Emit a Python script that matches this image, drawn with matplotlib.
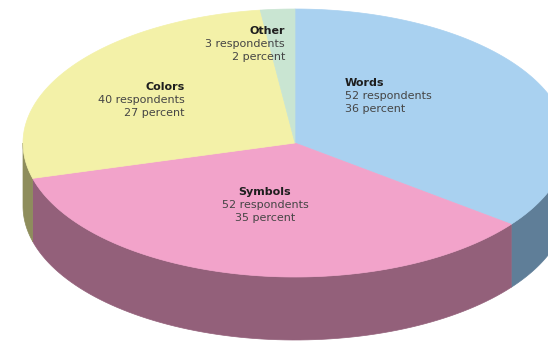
import numpy as np
import matplotlib
matplotlib.use("Agg")
import matplotlib.pyplot as plt
from matplotlib.patches import Polygon

# data, clockwise from 12 o'clock
labels = ["Words", "Symbols", "Colors", "Other"]
respondents = [52, 52, 40, 3]
percents = [36, 35, 27, 2]

top_colors = ["#a9d1f0", "#f2a3ca", "#f3f1a8", "#c9e5d2"]
side_colors = ["#5f7e98", "#93607a", "#8e8d5c", "#7f9a88"]

# label anchors (pixel coords) and alignment
label_pos = [(345, 83, "left"), (265, 192, "center"), (185, 87, "right"), (285, 31, "right")]

W, H = 548, 343
cx, cy, a, b, depth = 295, 143, 272, 134, 63

fig = plt.figure(figsize=(W / 100, H / 100), dpi=100)
ax = fig.add_axes([0, 0, 1, 1])
ax.set_xlim(0, W)
ax.set_ylim(H, 0)
ax.axis("off")


def ell(t, dy=0):
    t = np.radians(t)
    return np.column_stack([cx + a * np.cos(t), cy - b * np.sin(t) + dy])


vals = np.array(respondents, dtype=float)
spans = vals / vals.sum() * 360
hi = 90 - np.concatenate([[0], np.cumsum(spans)[:-1]])
lo = hi - spans

# sides (front half only: angles between -180 and 0)
for i in range(len(vals)):
    s0, s1 = max(lo[i], -180), min(hi[i], 0)
    if s1 <= s0:
        continue
    t = np.linspace(s0, s1, 80)
    pts = np.vstack([ell(t), ell(t[::-1], depth)])
    ax.add_patch(Polygon(pts, closed=True, facecolor=side_colors[i],
                         edgecolor=side_colors[i], linewidth=0.5))

# top faces
for i in range(len(vals)):
    t = np.linspace(lo[i], hi[i], 120)
    pts = np.vstack([[cx, cy], ell(t)])
    ax.add_patch(Polygon(pts, closed=True, facecolor=top_colors[i],
                         edgecolor=top_colors[i], linewidth=0.5))

fs = 8
for (x, y, ha), name, n, p in zip(label_pos, labels, respondents, percents):
    ax.text(x, y, name, ha=ha, va="center", fontsize=fs,
            fontweight="bold", color="#1e1e1e")
    ax.text(x, y + 13, f"{n} respondents", ha=ha, va="center",
            fontsize=fs, color="#454545")
    ax.text(x, y + 26, f"{p} percent", ha=ha, va="center",
            fontsize=fs, color="#454545")

fig.savefig("out.png", dpi=100, facecolor="white")
